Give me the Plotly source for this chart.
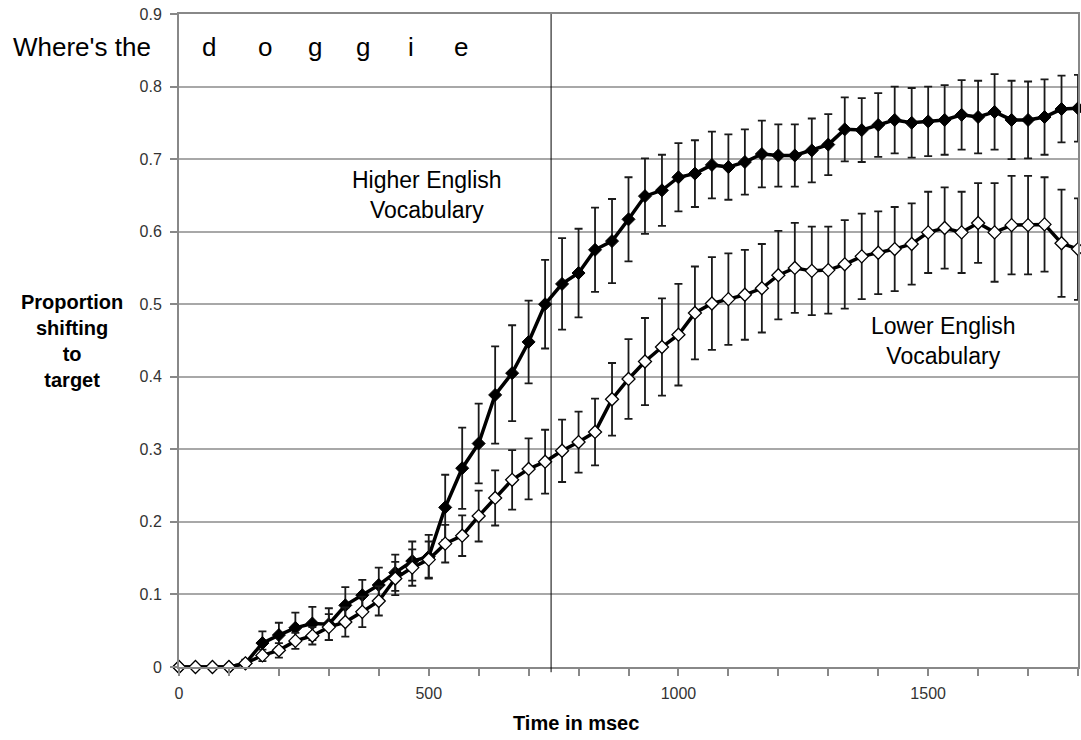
import plotly.graph_objects as go

time_ms = [0, 33, 67, 100, 133, 167, 200, 233, 267, 300, 333, 367, 400, 433, 467,
           500, 533, 567, 600, 633, 667, 700, 733, 767, 800, 833, 867, 900, 933, 967,
           1000, 1033, 1067, 1100, 1133, 1167, 1200, 1233, 1267, 1300, 1333, 1367, 1400, 1433, 1467,
           1500, 1533, 1567, 1600, 1633, 1667, 1700, 1733, 1767, 1800]

higher_vocab = [0, 0, 0, 0, 0.005, 0.033, 0.044, 0.054, 0.060, 0.059, 0.085, 0.099, 0.113, 0.130, 0.146,
                0.152, 0.220, 0.274, 0.308, 0.375, 0.405, 0.448, 0.500, 0.528, 0.543, 0.575, 0.587, 0.617, 0.649, 0.657,
                0.675, 0.680, 0.692, 0.689, 0.696, 0.707, 0.705, 0.705, 0.712, 0.720, 0.741, 0.740, 0.747, 0.754, 0.750,
                0.752, 0.754, 0.761, 0.758, 0.765, 0.754, 0.754, 0.758, 0.769, 0.770]
higher_err = [0, 0, 0, 0, 0.005, 0.016, 0.017, 0.021, 0.023, 0.022, 0.025, 0.021, 0.024, 0.025, 0.027,
              0.030, 0.045, 0.056, 0.055, 0.067, 0.066, 0.057, 0.061, 0.063, 0.061, 0.058, 0.058, 0.058, 0.052, 0.049,
              0.047, 0.046, 0.046, 0.045, 0.045, 0.046, 0.043, 0.043, 0.044, 0.042, 0.044, 0.044, 0.044, 0.046, 0.048,
              0.048, 0.048, 0.048, 0.050, 0.052, 0.054, 0.053, 0.052, 0.046, 0.046]

lower_vocab = [0, 0, 0, 0, 0.005, 0.016, 0.023, 0.036, 0.043, 0.055, 0.062, 0.076, 0.091, 0.122, 0.137,
               0.148, 0.170, 0.181, 0.208, 0.233, 0.258, 0.273, 0.283, 0.298, 0.310, 0.324, 0.369, 0.397, 0.421, 0.441,
               0.458, 0.488, 0.501, 0.507, 0.513, 0.522, 0.540, 0.550, 0.546, 0.547, 0.555, 0.566, 0.571, 0.576, 0.583,
               0.599, 0.605, 0.599, 0.612, 0.599, 0.609, 0.609, 0.610, 0.584, 0.576]
lower_err = [0, 0, 0, 0, 0.004, 0.008, 0.010, 0.011, 0.012, 0.018, 0.020, 0.021, 0.020, 0.023, 0.025,
             0.025, 0.026, 0.028, 0.035, 0.038, 0.041, 0.042, 0.044, 0.043, 0.042, 0.046, 0.050, 0.055, 0.060, 0.067,
             0.070, 0.064, 0.064, 0.063, 0.062, 0.061, 0.061, 0.062, 0.061, 0.060, 0.061, 0.059, 0.057, 0.058, 0.056,
             0.056, 0.056, 0.056, 0.055, 0.068, 0.068, 0.068, 0.065, 0.074, 0.070]

word_letters = ["d", "o", "g", "g", "i", "e"]
letter_times = [60, 172, 272, 368, 465, 565]
word_onset_ms = 745

x_ticks = [0, 500, 1000, 1500]
y_ticks = [0, 0.1, 0.2, 0.3, 0.4, 0.5, 0.6, 0.7, 0.8, 0.9]
y_tick_text = ["0", "0.1", "0.2", "0.3", "0.4", "0.5", "0.6", "0.7", "0.8", "0.9"]

FONT = "Liberation Sans, Arial, sans-serif"

fig = go.Figure()
fig.add_trace(go.Scatter(
    x=time_ms, y=higher_vocab, mode="lines+markers", name="Higher English Vocabulary",
    line=dict(color="black", width=3.5),
    marker=dict(symbol="diamond", size=10, color="black", line=dict(color="black", width=1)),
    error_y=dict(type="data", array=higher_err, visible=True, color="#1a1a1a", thickness=1.8, width=4),
    cliponaxis=False,
))
fig.add_trace(go.Scatter(
    x=time_ms, y=lower_vocab, mode="lines+markers", name="Lower English Vocabulary",
    line=dict(color="black", width=3.5),
    marker=dict(symbol="diamond", size=10, color="white", line=dict(color="black", width=1.3)),
    error_y=dict(type="data", array=lower_err, visible=True, color="#1a1a1a", thickness=1.8, width=4),
    cliponaxis=False,
))

# vertical line at word onset
fig.add_shape(type="line", xref="x", yref="paper", x0=word_onset_ms, x1=word_onset_ms,
              y0=-0.008, y1=1, line=dict(color="black", width=1))

annotations = []
annotations.append(dict(text="Where's the", xref="paper", yref="y", x=-0.187, y=0.855,
                        xanchor="left", yanchor="middle", showarrow=False,
                        font=dict(family=FONT, size=26, color="black")))
for letter, t in zip(word_letters, letter_times):
    annotations.append(dict(text=letter, xref="x", yref="y", x=t, y=0.855,
                            xanchor="center", yanchor="middle", showarrow=False,
                            font=dict(family=FONT, size=26, color="black")))
annotations.append(dict(text="Higher English<br>Vocabulary", xref="x", yref="y", x=497, y=0.65,
                        showarrow=False, align="center",
                        font=dict(family=FONT, size=23, color="black")))
annotations.append(dict(text="Lower English<br>Vocabulary", xref="x", yref="y", x=1530, y=0.45,
                        showarrow=False, align="center",
                        font=dict(family=FONT, size=23, color="black")))
annotations.append(dict(text="<b>Proportion<br>shifting<br>to<br>target</b>", xref="paper", yref="y",
                        x=-0.119, y=0.45, xanchor="center", yanchor="middle", showarrow=False,
                        align="center", font=dict(family=FONT, size=20, color="black")))
annotations.append(dict(text="<b>Time in msec</b>", xref="x", yref="paper", x=795, y=-0.085,
                        xanchor="center", yanchor="middle", showarrow=False,
                        font=dict(family=FONT, size=20, color="black")))

fig.update_layout(
    width=1081, height=740,
    margin=dict(l=179, r=1, t=14, b=73),
    paper_bgcolor="white", plot_bgcolor="white",
    showlegend=False,
    annotations=annotations,
    font=dict(family=FONT, color="#333333"),
)
fig.update_xaxes(
    range=[0, 1800], tickvals=x_ticks, ticktext=[str(v) for v in x_ticks],
    ticks="outside", ticklen=7, tickcolor="#888888", tickwidth=1.5,
    minor=dict(dtick=100, ticks="outside", ticklen=7, tickcolor="#888888", tickwidth=1.5, showgrid=False),
    showgrid=False, zeroline=False,
    showline=True, linecolor="#888888", linewidth=2, mirror=True,
    ticklabelstandoff=4,
    tickfont=dict(family=FONT, size=16, color="#333333"),
)
fig.update_yaxes(
    range=[0, 0.9], tickvals=y_ticks, ticktext=y_tick_text,
    ticks="outside", ticklen=7, tickcolor="#888888", tickwidth=1.5,
    showgrid=True, gridcolor="#a8a8a8", gridwidth=1.5, zeroline=False,
    showline=True, linecolor="#888888", linewidth=2, mirror=True,
    ticklabelstandoff=5,
    tickfont=dict(family=FONT, size=16, color="#333333"),
)

fig.write_html("out.html",
               config={"displayModeBar": False},
               post_script="document.body.style.margin='0px';document.body.style.overflow='hidden';")
